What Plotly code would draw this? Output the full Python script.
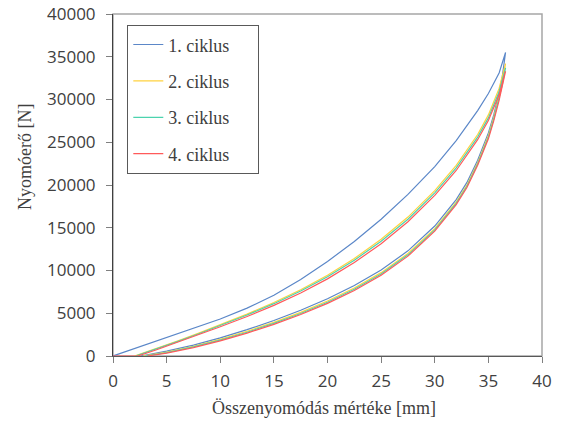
import plotly.graph_objects as go

# ---- data ----
cycle_names = ["1. ciklus", "2. ciklus", "3. ciklus", "4. ciklus"]

# loading branches (upper curves)
load_x_1 = [0, 2.5, 5, 7.5, 10, 12.5, 15, 17.5, 20, 22.5, 25, 27.5, 30, 32, 33, 34, 35, 36, 36.6]
load_y_1 = [0, 1070, 2150, 3220, 4330, 5600, 7100, 8950, 11050, 13400, 16000, 18900, 22150, 25200, 26900, 28700, 30700, 33100, 35500]

load_x_2 = [2.0, 4, 6, 8, 10, 12.5, 15, 17.5, 20, 22.5, 25, 27.5, 30, 32, 34, 35, 36, 36.6]
load_y_2 = [0, 850, 1750, 2680, 3650, 4900, 6250, 7750, 9450, 11400, 13650, 16250, 19350, 22300, 25900, 28200, 31300, 34200]

load_x_3 = [2.1, 4, 6, 8, 10, 12.5, 15, 17.5, 20, 22.5, 25, 27.5, 30, 32, 34, 35, 36, 36.6]
load_y_3 = [0, 780, 1680, 2600, 3560, 4790, 6120, 7600, 9270, 11200, 13420, 16000, 19080, 22000, 25600, 27850, 30900, 33700]

load_x_4 = [0, 2.3, 4, 6, 8, 10, 12.5, 15, 17.5, 20, 22.5, 25, 27.5, 30, 32, 34, 35, 36, 36.6]
load_y_4 = [0, 0, 700, 1580, 2480, 3420, 4620, 5920, 7370, 9020, 10930, 13130, 15700, 18780, 21700, 25300, 27550, 30550, 33300]

# unloading branches (lower curves)
unload_x_1 = [36.6, 36.3, 36, 35.5, 35, 34, 33, 32, 30, 27.5, 25, 22.5, 20, 17.5, 15, 12.5, 10, 7.5, 5, 2.6]
unload_y_1 = [35500, 32700, 30800, 28200, 26100, 22900, 20300, 18300, 15200, 12300, 10050, 8250, 6700, 5350, 4150, 3080, 2120, 1280, 580, 0]

unload_x_2 = [36.6, 36.3, 36, 35.5, 35, 34, 33, 32, 30, 27.5, 25, 22.5, 20, 17.5, 15, 12.5, 10, 7.5, 5, 2.8]
unload_y_2 = [34200, 32000, 30400, 27900, 25800, 22600, 20000, 18000, 14900, 11990, 9750, 7960, 6430, 5100, 3930, 2890, 1950, 1140, 470, 0]

unload_x_3 = [36.6, 36.3, 36, 35.5, 35, 34, 33, 32, 30, 27.5, 25, 22.5, 20, 17.5, 15, 12.5, 10, 7.5, 5, 3.0]
unload_y_3 = [33700, 31700, 30150, 27700, 25600, 22450, 19850, 17850, 14750, 11830, 9600, 7810, 6290, 4970, 3810, 2780, 1850, 1060, 400, 0]

unload_x_4 = [36.6, 36.3, 36, 35.5, 35, 34, 33, 32, 30, 27.5, 25, 22.5, 20, 17.5, 15, 12.5, 10, 7.5, 5, 3.2]
unload_y_4 = [33300, 31400, 29900, 27500, 25400, 22300, 19700, 17700, 14600, 11680, 9450, 7670, 6160, 4850, 3700, 2680, 1760, 980, 330, 0]

x_ticks = [0, 5, 10, 15, 20, 25, 30, 35, 40]
y_ticks = [0, 5000, 10000, 15000, 20000, 25000, 30000, 35000, 40000]

colors = ["#5B87C8", "#FFD23F", "#4CD3AE", "#FF5A5A"]

loads_x = [load_x_1, load_x_2, load_x_3, load_x_4]
loads_y = [load_y_1, load_y_2, load_y_3, load_y_4]
unloads_x = [unload_x_1, unload_x_2, unload_x_3, unload_x_4]
unloads_y = [unload_y_1, unload_y_2, unload_y_3, unload_y_4]

PAD = "\u00a0" * 5  # widens the legend box like the reference

fig = go.Figure()
for i, name in enumerate(cycle_names):
    xs = loads_x[i] + unloads_x[i][1:]
    ys = loads_y[i] + unloads_y[i][1:]
    fig.add_trace(go.Scatter(
        x=xs, y=ys, mode="lines", name=name + PAD, legendgroup=name,
        line=dict(color=colors[i], width=1.2),
    ))

W, H = 562, 421
L, R, T, B = 113, 20, 14, 65
pw = W - L - R
ph = H - T - B

tick_font = dict(family="Open Sans, sans-serif", size=17, color="#404040")
serif = dict(family="Liberation Serif, serif", size=18, color="#404040")

fig.update_layout(
    width=W, height=H,
    margin=dict(l=L, r=R, t=T, b=B, autoexpand=False),
    paper_bgcolor="white", plot_bgcolor="white",
    showlegend=True,
    legend=dict(
        x=(127 - L) / pw, y=(H - B - 25) / ph, xanchor="left", yanchor="top",
        bgcolor="white", bordercolor="#595959", borderwidth=1.3,
        font=serif, tracegroupgap=10, traceorder="grouped",
    ),
    xaxis=dict(
        range=[0, 40], tickvals=x_ticks, ticktext=[str(v) for v in x_ticks],
        showgrid=False, zeroline=False, showline=True, linecolor="#595959", linewidth=1,
        ticks="outside", ticklen=6, tickcolor="#808080", tickfont=tick_font,
        ticklabelstandoff=4, automargin=False,
    ),
    yaxis=dict(
        range=[0, 40000], tickvals=y_ticks, ticktext=[str(v) for v in y_ticks],
        showgrid=False, zeroline=False, showline=True, linecolor="#404040", linewidth=1,
        ticks="outside", ticklen=6, tickcolor="#808080", tickfont=tick_font,
        ticklabelstandoff=7, automargin=False,
    ),
    shapes=[dict(type="rect", xref="paper", yref="paper", x0=0, x1=1, y0=0, y1=1,
                 line=dict(color="#A6A6A6", width=1.5), layer="below")],
    annotations=[
        dict(text="Összenyomódás mértéke [mm]", xref="paper", yref="paper",
             x=(324 - L) / pw, y=-(408 - (H - B)) / ph, xanchor="center", yanchor="middle",
             showarrow=False, font=serif),
        dict(text="Nyomóerő [N]", xref="paper", yref="paper",
             x=(25 - L) / pw, y=(H - B - 157) / ph, xanchor="center", yanchor="middle",
             textangle=-90, showarrow=False, font=serif),
    ],
)

fig.write_html("out.html",
               config={"displayModeBar": False},
               post_script="document.body.style.margin='0';document.body.style.overflow='hidden';")
